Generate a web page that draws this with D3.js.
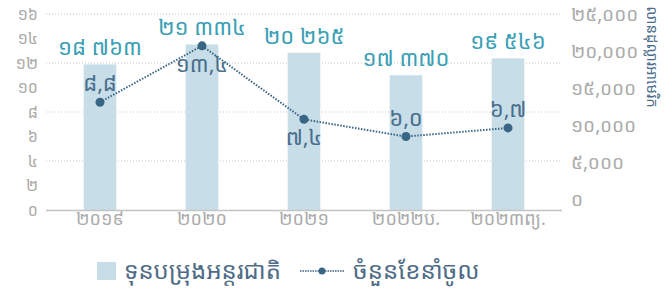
<!DOCTYPE html>
<html>
<head>
<meta charset="utf-8">
<script src="https://cdn.jsdelivr.net/npm/d3@7"></script>
<style>
  body { margin: 0; background: #fff; }
  text { font-family: "Noto Sans Khmer", "Khmer OS", "Noto Sans", sans-serif; }
</style>
</head>
<body>
<script>
var years = ["២០១៩", "២០២០", "២០២១", "២០២២ប.", "២០២៣ព្យ."];
var reserves = [18763, 21334, 20265, 17370, 19546];
var months = [8.8, 13.4, 7.4, 6.0, 6.7];
var monthLabelSide = ["up", "down", "down", "up", "up"];
var leftTicks = [0, 2, 4, 6, 8, 10, 12, 14, 16];
var rightTicks = [0, 5000, 10000, 15000, 20000, 25000];
var gridTicks = [4, 8, 12, 16];

var width = 670, height = 289;
var khDigits = "០១២៣៤៥៦៧៨៩";
function kh(s) {
  return String(s).replace(/[0-9]/g, function(c) { return khDigits[+c]; });
}

var svg = d3.select("body").append("svg")
  .attr("width", width).attr("height", height);

var x = d3.scaleBand().domain(years).range([49, 559]).paddingInner(0.68).paddingOuter(0.34);
var yLeft = d3.scaleLinear().domain([0, 16]).range([210, 14]);
var yBar = d3.scaleLinear().domain([0, 25000]).range([210, 16]);
var yRightLab = d3.scaleLinear().domain([0, 25000]).range([199, 14]);

// grid
svg.selectAll("line.grid").data(gridTicks).enter().append("line")
  .attr("x1", 46).attr("x2", 562)
  .attr("y1", function(d) { return yLeft(d); })
  .attr("y2", function(d) { return yLeft(d); })
  .attr("stroke", "#c8c8c8").attr("stroke-width", 1)
  .attr("stroke-dasharray", "1,2");

// bars
svg.selectAll("rect.bar").data(reserves).enter().append("rect")
  .attr("x", function(d, i) { return x(years[i]); })
  .attr("y", function(d) { return yBar(d); })
  .attr("width", x.bandwidth())
  .attr("height", function(d) { return yBar(0) - yBar(d); })
  .attr("fill", "#c7dee9");

// baseline
svg.append("line").attr("x1", 46).attr("x2", 562)
  .attr("y1", 210.5).attr("y2", 210.5)
  .attr("stroke", "#c4c4c4").attr("stroke-width", 1.5);

// left axis
var leftAxis = svg.append("g").attr("transform", "translate(38,0)")
  .call(d3.axisLeft(yLeft).tickValues(leftTicks).tickSize(0).tickPadding(0).tickFormat(kh));
leftAxis.select(".domain").remove();
leftAxis.selectAll("text").attr("fill", "#ababab").style("font-size", "16px");

// right axis
var rightAxis = svg.append("g").attr("transform", "translate(571,0)")
  .call(d3.axisRight(yRightLab).tickValues(rightTicks).tickSize(0).tickPadding(0)
    .tickFormat(function(d) { return kh(d3.format(",")(d)); }));
rightAxis.select(".domain").remove();
rightAxis.selectAll("text").attr("fill", "#ababab").style("font-size", "19px");

svg.append("text")
  .attr("transform", "translate(647,57) rotate(90)")
  .attr("text-anchor", "middle")
  .attr("fill", "#4a6c8a").style("font-size", "15px")
  .text("លានដុល្លារអាមេរិក");

// x labels
svg.selectAll("text.xl").data(years).enter().append("text")
  .attr("x", function(d) { return x(d) + x.bandwidth() / 2; })
  .attr("y", 225)
  .attr("text-anchor", "middle")
  .attr("fill", "#ababab").style("font-size", "18px")
  .text(function(d) { return d; });

// bar labels
svg.selectAll("text.bl").data(reserves).enter().append("text")
  .attr("x", function(d, i) { return x(years[i]) + x.bandwidth() / 2; })
  .attr("y", function(d) { return yBar(d) - 9; })
  .attr("text-anchor", "middle")
  .attr("fill", "#3b9fb5").style("font-size", "22px")
  .text(function(d) { return kh(d3.format(",")(d)).replace(",", " "); });

// line
var line = d3.line()
  .x(function(d, i) { return x(years[i]) + x.bandwidth() / 2; })
  .y(function(d) { return yLeft(d); });

svg.append("path").datum(months)
  .attr("d", line)
  .attr("fill", "none")
  .attr("stroke", "#3a6686").attr("stroke-width", 2)
  .attr("stroke-dasharray", "1.5,1.5");

svg.selectAll("circle.pt").data(months).enter().append("circle")
  .attr("cx", function(d, i) { return x(years[i]) + x.bandwidth() / 2; })
  .attr("cy", function(d) { return yLeft(d); })
  .attr("r", 4.5)
  .attr("fill", "#3a6686");

svg.selectAll("text.ml").data(months).enter().append("text")
  .attr("x", function(d, i) { return x(years[i]) + x.bandwidth() / 2; })
  .attr("y", function(d, i) { return monthLabelSide[i] == "up" ? yLeft(d) - 11 : yLeft(d) + 26; })
  .attr("text-anchor", "middle")
  .attr("fill", "#4a6f8c").style("font-size", "22px")
  .text(function(d) { return kh(d3.format(".1f")(d)).replace(".", ","); });

// legend
svg.append("rect").attr("x", 97).attr("y", 262).attr("width", 19).attr("height", 18)
  .attr("fill", "#c7dee9");
svg.append("text").attr("x", 124).attr("y", 279)
  .attr("fill", "#4f6c87").style("font-size", "24px")
  .text("ទុនបម្រុងអន្តរជាតិ");

svg.append("line").attr("x1", 300).attr("x2", 344)
  .attr("y1", 271).attr("y2", 271)
  .attr("stroke", "#3a6686").attr("stroke-width", 1.5)
  .attr("stroke-dasharray", "1.5,1");
svg.append("circle").attr("cx", 322).attr("cy", 271).attr("r", 3.5).attr("fill", "#3a6686");
svg.append("text").attr("x", 353).attr("y", 279)
  .attr("fill", "#4f6c87").style("font-size", "24px")
  .text("ចំនួនខែនាំចូល");
</script>
</body>
</html>
